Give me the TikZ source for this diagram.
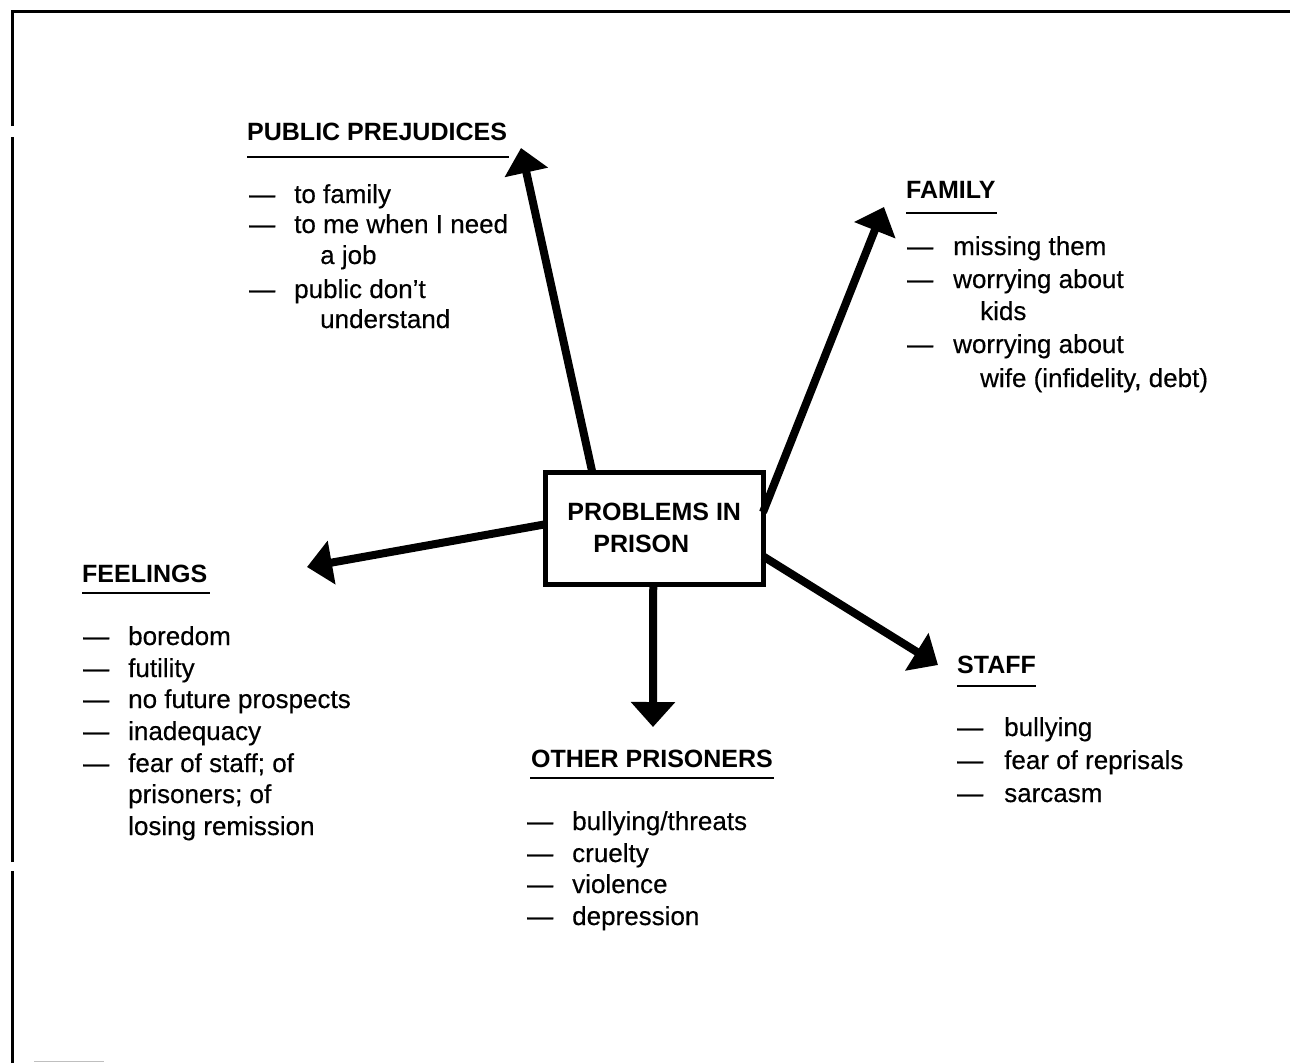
\documentclass[tikz,border=0pt]{standalone}
\usepackage{fontspec}
\setmainfont{Liberation Sans}
\newfontfamily\bodyfont[FakeBold=0.4]{Liberation Sans}
\usetikzlibrary{arrows.meta}
\begin{document}
\begin{tikzpicture}[x=1pt,y=-1pt,
  body/.style={font=\bodyfont\fontsize{26}{32}\selectfont, inner sep=0pt, anchor=base west},
  head/.style={font=\fontsize{25}{30}\selectfont\bfseries, inner sep=0pt, anchor=base west},
  uline/.style={line width=2.5pt},
  bigarrow/.style={line width=8pt, -{Triangle[length=25pt,width=43pt]}},
  frameline/.style={line width=3pt}
]
\useasboundingbox (0,0) rectangle (1290,1063);
% frame
\draw[frameline] (12,1063) -- (12,871);
\draw[frameline] (12,862) -- (12,137);
\draw[frameline] (12,126) -- (12,11) -- (1290,11);
\draw[line width=1pt, black!25] (34,1061) -- (104,1061);

% central box
\node[draw, line width=5pt, outer sep=0pt, minimum width=217.5pt, minimum height=112.5pt,
      align=center, font=\fontsize{25}{32}\selectfont\bfseries]
  (box) at (654.25,528.25) {PROBLEMS IN\\PRISON\hspace*{26pt}};

% arrow tips
\coordinate (ppT) at (521,148);
\coordinate (famT) at (884,207);
\coordinate (feelT) at (307,567);
\coordinate (othT) at (653,727);
\coordinate (stT) at (938,665);

\draw[bigarrow] ([xshift=-62pt]box.north) -- (ppT);
\draw[bigarrow] ([yshift=16pt]box.east) -- (famT);
\draw[bigarrow] ([yshift=4pt]box.west) -- (feelT);
\draw[bigarrow] ([xshift=-1pt]box.south) -- (othT);
\draw[bigarrow] ([yshift=-28pt]box.east) -- (stT);

% PUBLIC PREJUDICES
\node[head] (pp) at (247,140) {PUBLIC PREJUDICES};
\draw[uline] ([yshift=-17pt]pp.base west) -- ([xshift=2pt,yshift=-17pt]pp.base east);
\node[body] (ppd1) at (249,203) {—};
\node[body] (pp1) at (294,203) {to family};
\node[body] (ppd2) at (249,233) {—};
\node[body] (pp2) at (294,233) {to me when I need};
\node[body] (pp3) at (320,264) {a job};
\node[body] (ppd4) at (249,298) {—};
\node[body] (pp4) at (294,298) {public don’t};
\node[body] (pp5) at (320,328) {understand};

% FAMILY
\node[head] (fam) at (906,198) {FAMILY};
\draw[uline] ([yshift=-15pt]fam.base west) -- ([xshift=1pt,yshift=-15pt]fam.base east);
\node[body] (famd1) at (907,255) {—};
\node[body] (fam1) at (953,255) {missing them};
\node[body] (famd2) at (907,288) {—};
\node[body] (fam2) at (953,288) {worrying about};
\node[body] (fam3) at (980,320) {kids};
\node[body] (famd4) at (907,353) {—};
\node[body] (fam4) at (953,353) {worrying about};
\node[body] (fam5) at (980,387) {wife (infidelity, debt)};

% FEELINGS
\node[head] (feel) at (82,582) {FEELINGS};
\draw[uline] ([yshift=-11pt]feel.base west) -- ([xshift=3pt,yshift=-11pt]feel.base east);
\node[body] (feeld1) at (83,645) {—};
\node[body] (feel1) at (128,645) {boredom};
\node[body] (feeld2) at (83,677) {—};
\node[body] (feel2) at (128,677) {futility};
\node[body] (feeld3) at (83,708) {—};
\node[body] (feel3) at (128,708) {no future prospects};
\node[body] (feeld4) at (83,740) {—};
\node[body] (feel4) at (128,740) {inadequacy};
\node[body] (feeld5) at (83,772) {—};
\node[body] (feel5) at (128,772) {fear of staff; of};
\node[body] (feel6) at (128,803) {prisoners; of};
\node[body] (feel7) at (128,835) {losing remission};

% OTHER PRISONERS
\node[head] (oth) at (531,767) {OTHER PRISONERS};
\draw[uline] ([xshift=-1pt,yshift=-11pt]oth.base west) -- ([xshift=1pt,yshift=-11pt]oth.base east);
\node[body] (othd1) at (527,830) {—};
\node[body] (oth1) at (572,830) {bullying/threats};
\node[body] (othd2) at (527,862) {—};
\node[body] (oth2) at (572,862) {cruelty};
\node[body] (othd3) at (527,893) {—};
\node[body] (oth3) at (572,893) {violence};
\node[body] (othd4) at (527,925) {—};
\node[body] (oth4) at (572,925) {depression};

% STAFF
\node[head] (st) at (957,673) {STAFF};
\draw[uline] ([yshift=-13pt]st.base west) -- ([yshift=-13pt]st.base east);
\node[body] (std1) at (957,736) {—};
\node[body] (st1) at (1004,736) {bullying};
\node[body] (std2) at (957,769) {—};
\node[body] (st2) at (1004,769) {fear of reprisals};
\node[body] (std3) at (957,802) {—};
\node[body] (st3) at (1004,802) {sarcasm};
\end{tikzpicture}
\end{document}
